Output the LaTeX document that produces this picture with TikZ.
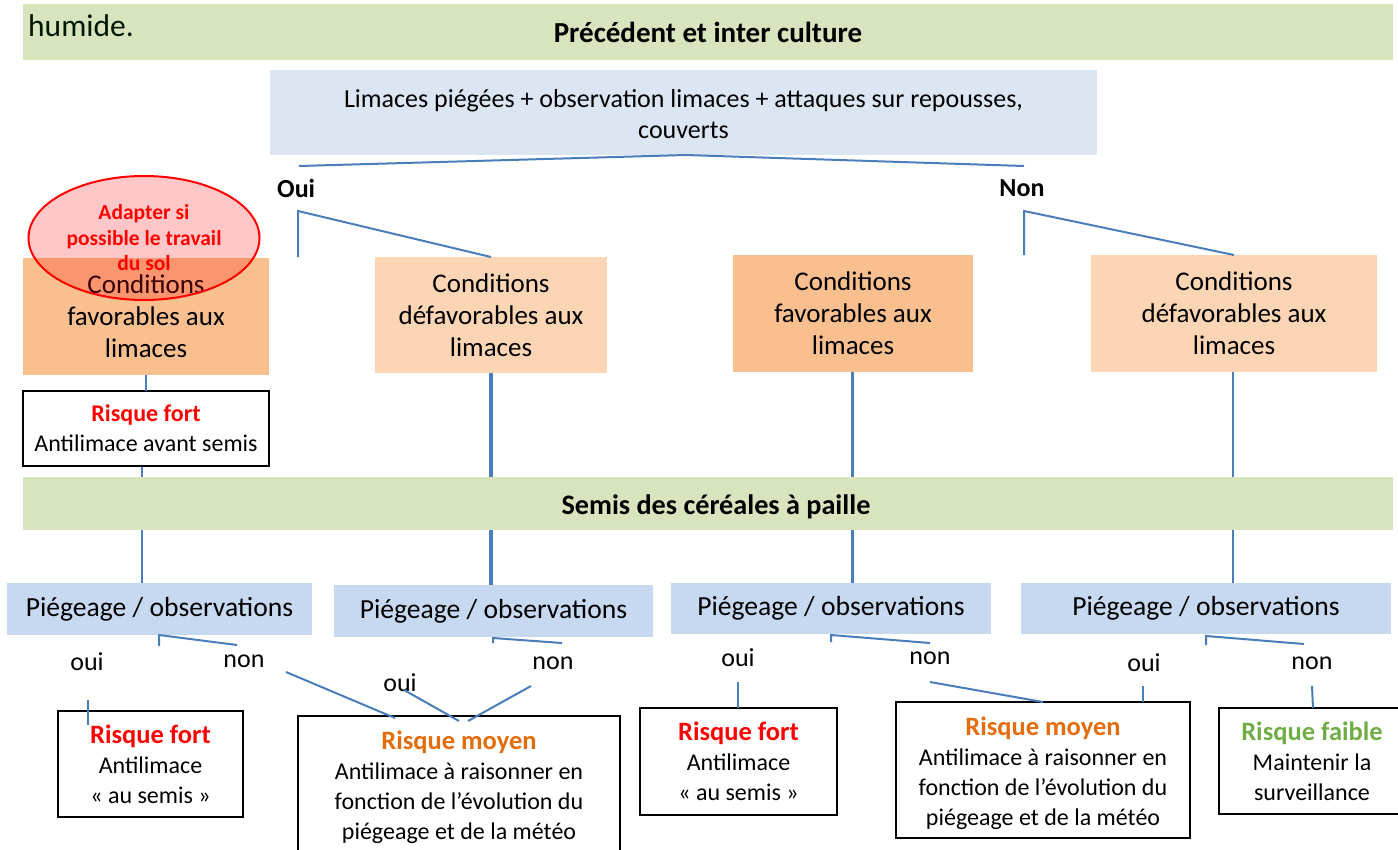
\documentclass[tikz,border=0pt]{standalone}
\usepackage{fontspec}
\setmainfont{Carlito}
\usetikzlibrary{shapes.geometric}
\pgfdeclarelayer{bg}
\pgfsetlayers{bg,main}

\definecolor{barGreen}{HTML}{D7E4BD}
\definecolor{topBlue}{HTML}{DCE6F2}
\definecolor{pieBlue}{HTML}{C6D9F1}
\definecolor{orDark}{HTML}{F9BF8F}
\definecolor{orLight}{HTML}{FCD5B5}
\definecolor{lineBlue}{HTML}{4A7EBB}
\definecolor{riskRed}{HTML}{FF0000}
\definecolor{riskOrange}{HTML}{E46C0A}
\definecolor{riskGreen}{HTML}{70AD47}

\newcommand{\bodyfs}{\fontsize{26}{31.5}\selectfont}
\newcommand{\condfs}{\fontsize{27}{32}\selectfont}
\newcommand{\piegefs}{\fontsize{27.6}{32}\selectfont}
\newcommand{\titlefs}{\fontsize{29}{34}\selectfont}
\newcommand{\semisfs}{\fontsize{28.2}{34}\selectfont}
\newcommand{\riskfs}{\fontsize{24}{30}\selectfont}
\newcommand{\riskhead}{\fontsize{26.5}{30}\selectfont\bfseries}
\newcommand{\ovalfs}{\fontsize{21.5}{25.5}\selectfont}
% lower a block of lines without changing how its node centres it
\newcommand{\lowerblock}[2]{\raisebox{-#1}[\height][\depth]{\begin{tabular}{@{}c@{}}#2\end{tabular}}}

\begin{document}
\begin{tikzpicture}[x=1pt,y=-1pt,
  panel/.style={anchor=north west,inner sep=0pt,outer sep=0pt,align=center,draw=none},
  riskbox/.style={anchor=north west,inner sep=0pt,outer sep=0pt,align=center,
    draw=black,line width=2pt,fill=white,font=\riskfs},
  link/.style={draw=lineBlue,line width=2pt},
  lbl/.style={inner sep=0pt,font=\bodyfs}
]
\useasboundingbox (0,0) rectangle (1398,849);

% --- header band
\node[panel,fill=barGreen,minimum width=1370pt,minimum height=56pt] (head) at (23,4) {};
\node[anchor=base west,inner sep=0pt,font=\fontsize{31.5}{36}\selectfont,text=black!85!green!60!black] (humide) at (28,36) {humide.};
\node[anchor=base,inner sep=0pt,font=\titlefs\bfseries] (headtxt) at (708,42) {Précédent et inter culture};

% --- question box
\node[panel,fill=topBlue,minimum width=827pt,minimum height=85pt,font=\bodyfs] (quest) at (270,70)
  {\lowerblock{4pt}{Limaces piégées + observation limaces + attaques sur repousses,\\couverts}};

\node[lbl,font=\bodyfs\bfseries,anchor=west] (oui) at (277,188) {Oui};
\node[lbl,font=\bodyfs\bfseries] (non) at (1022,188) {Non};

% --- conditions boxes
\node[panel,fill=orDark,minimum width=246pt,minimum height=117pt,font=\condfs] (c1) at (23,258)
  {Conditions\\favorables aux\\limaces};
\node[panel,fill=orLight,minimum width=232pt,minimum height=116pt,font=\condfs] (c2) at (375,257)
  {Conditions\\défavorables aux\\limaces};
\node[panel,fill=orDark,minimum width=240pt,minimum height=117pt,font=\condfs] (c3) at (733,255)
  {Conditions\\favorables aux\\limaces};
\node[panel,fill=orLight,minimum width=286pt,minimum height=117pt,font=\condfs] (c4) at (1091,255)
  {Conditions\\défavorables aux\\limaces};

% --- soil tillage note
\node[ellipse,draw=riskRed,line width=2pt,fill=red,fill opacity=0.22,text opacity=1,
  minimum width=231pt,minimum height=124pt,inner sep=0pt,align=center,
  font=\ovalfs\bfseries,text=riskRed] (oval) at (144,238)
  {Adapter si\\possible le travail\\du sol};

% --- early risk box
\node[riskbox,minimum width=246pt,minimum height=75pt] (rf1) at (23,391)
  {\textcolor{riskRed}{\bfseries Risque fort}\\Antilimace avant semis};

% --- sowing band
\node[panel,fill=barGreen,minimum width=1370pt,minimum height=53pt] (semis) at (23,477) {};
\node[anchor=base,inner sep=0pt,font=\semisfs\bfseries] (semistxt) at (716,514) {Semis des céréales à paille};

% --- trapping boxes
\node[panel,fill=pieBlue,minimum width=305pt,minimum height=52pt,font=\piegefs] (p1) at (7,583) {Piégeage / observations};
\node[panel,fill=pieBlue,minimum width=319pt,minimum height=52pt,font=\piegefs] (p2) at (334,585) {Piégeage / observations};
\node[panel,fill=pieBlue,minimum width=320pt,minimum height=51pt,font=\piegefs] (p3) at (671,583) {Piégeage / observations};
\node[panel,fill=pieBlue,minimum width=370pt,minimum height=51pt,font=\piegefs] (p4) at (1021,583) {Piégeage / observations};

% --- oui / non labels
\node[lbl] (o1) at (87,662) {oui};
\node[lbl] (n1) at (244,661) {non};
\node[lbl] (o2) at (400,683) {oui};
\node[lbl] (n2) at (553,663) {non};
\node[lbl] (o3) at (738,658) {oui};
\node[lbl] (n3) at (930,658) {non};
\node[lbl] (o4) at (1144,663) {oui};
\node[lbl] (n4) at (1312,663) {non};

% --- final risk boxes
\node[riskbox,minimum width=185pt,minimum height=106pt] (rf2) at (58,711)
  {{\riskhead\textcolor{riskRed}{Risque fort}}\\Antilimace\\« au semis »};
\node[riskbox,minimum width=322pt,minimum height=142pt] (rm1) at (298,716)
  {{\riskhead\textcolor{riskOrange}{Risque moyen}}\\Antilimace à raisonner en\\fonction de l’évolution du\\piégeage et de la météo};
\node[riskbox,minimum width=197pt,minimum height=107pt] (rf3) at (640,708)
  {{\riskhead\textcolor{riskRed}{Risque fort}}\\Antilimace\\« au semis »};
\node[riskbox,minimum width=294pt,minimum height=136pt] (rm2) at (896,702)
  {\lowerblock{4pt}{{\riskhead\textcolor{riskOrange}{Risque moyen}}\\Antilimace à raisonner en\\fonction de l’évolution du\\piégeage et de la météo}};
\node[riskbox,minimum width=186pt,minimum height=106pt] (rfa) at (1219,708)
  {{\riskhead\textcolor{riskGreen}{Risque faible}}\\Maintenir la\\surveillance};

% --- free ends of the branching strokes
\coordinate (qL) at (299,166);
\coordinate (qR) at (1024,166);
\coordinate (ouiTop) at (298,211);
\coordinate (ouiFoot) at (298,257);
\coordinate (nonTop) at (1024,211);
\coordinate (nonFoot) at (1024,255);
\coordinate (b1a) at (159,646); \coordinate (b1b) at (159,635); \coordinate (b1c) at (237,645);
\coordinate (b2a) at (493,643); \coordinate (b2b) at (493,638); \coordinate (b2c) at (562,643);
\coordinate (b3a) at (831,642); \coordinate (b3b) at (831,635); \coordinate (b3c) at (930,643);
\coordinate (b4a) at (1206,645); \coordinate (b4b) at (1206,636); \coordinate (b4c) at (1304,644);
\coordinate (o1s) at (88,700);  \coordinate (o1e) at (88,725);
\coordinate (n1s) at (286,672); \coordinate (n1e) at (395,718);
\coordinate (o2s) at (404,690); \coordinate (o2e) at (459,721);
\coordinate (n2s) at (531,686); \coordinate (n2e) at (468,721);
\coordinate (o3s) at (738,682);
\coordinate (n3s) at (930,682); \coordinate (n3e) at (1043,702);
\coordinate (o4s) at (1143,686);
\coordinate (n4s) at (1312,686);

% --- strokes under the question box
\draw[link] (qL) -- ([xshift=2pt]quest.south) -- (qR);
\draw[link] (ouiFoot) -- (ouiTop) -- (c2.north);
\draw[link] (nonFoot) -- (nonTop) -- (c4.north);
\draw[link] (c1.south) -- (rf1.north);

% --- verticals running behind the sowing band
\begin{pgfonlayer}{bg}
\draw[link] ([xshift=-4pt]rf1.south) -- ([xshift=-4pt]rf1.south |- p1.north);
\draw[link,line width=4pt] (c2.south) -- (c2.south |- p2.north);
\draw[link,line width=3pt] ([xshift=-1pt]c3.south) -- ([xshift=-1pt]c3.south |- p3.north);
\draw[link] ([xshift=-1pt]c4.south) -- ([xshift=-1pt]c4.south |- p4.north);
\end{pgfonlayer}

% --- trapping branches
\draw[link] (b1a) -- (b1b) -- (b1c);
\draw[link] (b2a) -- (b2b) -- (b2c);
\draw[link] (b3a) -- (b3b) -- (b3c);
\draw[link] (b4a) -- (b4b) -- (b4c);

\draw[link] (o1s) -- (o1e);
\draw[link] (n1s) -- (n1e);
\draw[link] (o2s) -- (o2e);
\draw[link] (n2s) -- (n2e);
\draw[link] (o3s) -- (o3s |- rf3.north);
\draw[link] (n3s) -- (n3e);
\draw[link] (o4s) -- (o4s |- rm2.north);
\draw[link] (n4s) -- ([xshift=1pt]n4s |- rfa.north);
\end{tikzpicture}
\end{document}
